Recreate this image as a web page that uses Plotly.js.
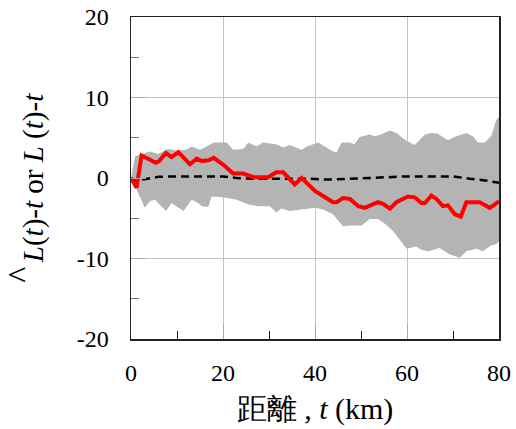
<!DOCTYPE html>
<html>
<head>
<meta charset="utf-8">
<script src="https://cdn.plot.ly/plotly-3.0.1.min.js"></script>
<style>
  html, body { margin: 0; padding: 0; background: #fff; }
  #chart { width: 516px; height: 429px; }
</style>
</head>
<body>
<div id="chart"></div>
<script>
// Observed statistic L(t)-t (red)
const redT = [0, 1.2, 2.3, 5.4, 6.1, 7.6, 8.8, 10.3, 12.8, 14.3, 15.4, 16.8, 18.0, 20.4, 22.2, 24.4, 26.6, 29.8, 31.6, 33.1, 35.6, 37.1, 40.0, 41.8, 43.9, 44.7, 46.1, 47.6, 49.4, 50.8, 53.7, 54.8, 56.3, 57.7, 60.2, 61.7, 63.1, 63.9, 65.3, 66.4, 67.8, 68.9, 70.4, 71.7, 72.9, 75.8, 78.0, 80.0];
const redV = [0, -1.2, 2.8, 1.9, 2.1, 3.1, 2.6, 3.2, 1.7, 2.4, 2.1, 2.2, 2.5, 1.5, 0.55, 0.55, 0.1, 0.1, 0.7, 0.7, -0.8, 0.0, -1.6, -2.3, -3.0, -3.0, -2.5, -2.6, -3.5, -3.7, -3.0, -3.2, -3.8, -3.0, -2.3, -2.4, -3.1, -3.1, -2.2, -2.6, -3.5, -3.4, -4.5, -4.8, -3.0, -3.0, -3.7, -2.9];

// Expected value under randomness (dashed)
const meanT = [0, 1.2, 2.5, 4.1, 6, 10, 15, 20, 23, 27, 31, 35, 39, 43, 47, 50, 55, 60, 65, 70, 73.7, 77, 80];
const meanV = [0, -0.5, -0.2, 0.0, 0.15, 0.2, 0.2, 0.2, 0.0, -0.1, -0.1, -0.1, -0.1, -0.2, -0.1, -0.1, 0.1, 0.2, 0.2, 0.2, -0.1, -0.3, -0.6];

// Simulation envelope, upper bound
const upT = [0, 0.9, 2.0, 4, 6, 8, 10, 12.0, 13.2, 15.0, 16.4, 18.0, 20.8, 22.2, 24.4, 25.5, 27.3, 28.7, 31.6, 33.1, 34.5, 37.1, 38.2, 40.7, 42.1, 43.9, 44.7, 45.8, 47.6, 48.6, 49.7, 51.9, 53.0, 54.4, 56.3, 57.7, 59.9, 61.7, 63.9, 65.3, 66.7, 68.9, 70.7, 72.9, 74.3, 75.4, 76.9, 78.3, 79.4, 80];
const upV = [0, 2.7, 2.9, 3.3, 3.0, 3.6, 3.4, 3.5, 3.9, 3.5, 3.9, 4.4, 4.4, 3.5, 3.6, 4.4, 3.9, 4.4, 4.2, 3.8, 4.1, 3.5, 3.9, 4.4, 3.9, 3.3, 3.2, 4.4, 4.4, 4.2, 5.1, 5.4, 5.2, 5.4, 5.9, 5.6, 4.6, 4.1, 5.4, 5.6, 5.5, 4.7, 5.2, 5.6, 5.2, 4.4, 4.4, 5.2, 7.2, 7.6];

// Simulation envelope, lower bound
const loT = [0, 1.2, 3.0, 4.1, 5.2, 6.3, 7.6, 8.8, 9.9, 11.4, 13.2, 14.6, 15.4, 16.8, 17.5, 20.0, 23.0, 25.5, 27.7, 30.2, 31.6, 32.7, 34.5, 37.1, 40.0, 41.8, 43.9, 46.1, 47.6, 50.1, 51.9, 53.7, 55.5, 57.0, 58.4, 59.9, 62.0, 63.1, 64.6, 67.1, 69.3, 71.5, 72.9, 75.1, 76.5, 78.3, 79.4, 80];
const loV = [0, -1.4, -3.7, -2.9, -2.7, -3.3, -4.1, -3.1, -3.5, -4.1, -2.7, -3.1, -3.5, -3.6, -2.3, -2.4, -2.7, -3.3, -3.5, -3.5, -4.3, -3.8, -4.1, -3.9, -3.7, -3.9, -4.5, -6.0, -5.9, -5.9, -5.1, -5.1, -5.8, -6.6, -7.7, -8.8, -8.5, -8.9, -9.1, -8.7, -9.5, -9.9, -9.1, -8.8, -9.1, -8.4, -8.2, -7.9];

const xTicks = [0, 20, 40, 60, 80];
const yTicks = [-20, -10, 0, 10, 20];

const serif = 'Liberation Serif';

// closed polygon: upper edge left-to-right, then lower edge back
const envX = upT.concat(loT.slice().reverse());
const envY = upV.concat(loV.slice().reverse());

const traces = [
  { x: envX, y: envY, type: 'scatter', mode: 'lines', fill: 'toself',
    fillcolor: '#b4b4b4', line: { width: 0, color: '#b4b4b4' }, hoverinfo: 'skip', showlegend: false },
  { x: meanT, y: meanV, type: 'scatter', mode: 'lines',
    line: { color: '#000', width: 2.5, dash: '8px,5px' }, showlegend: false },
  { x: redT, y: redV, type: 'scatter', mode: 'lines',
    line: { color: '#ff0000', width: 4 }, showlegend: false }
];

const axisCommon = {
  showgrid: true, gridcolor: '#c4c4c4', gridwidth: 1,
  zeroline: false, showline: true, linecolor: '#222', linewidth: 1.5, mirror: true,
  ticks: 'inside', ticklen: 15, tickcolor: '#aaa', tickwidth: 1,
  tickfont: { family: serif, size: 24, color: '#000' }
};

const layout = {
  width: 516, height: 429,
  margin: { l: 131, r: 17, t: 17, b: 90 },
  paper_bgcolor: '#fff', plot_bgcolor: '#fff',
  showlegend: false,
  xaxis: Object.assign({}, axisCommon, {
    range: [0, 80], tickvals: xTicks, ticktext: xTicks.map(String),
    ticklabelstandoff: 12,
    minor: { tickvals: [10, 30, 50, 70], ticks: 'inside', ticklen: 8, tickcolor: '#222', tickwidth: 1, showgrid: false },
    title: { text: '距離 , <i>t</i> (km)', font: { family: serif, size: 30, color: '#000' }, standoff: 12 }
  }),
  yaxis: Object.assign({}, axisCommon, {
    range: [-20, 20], tickvals: yTicks, ticktext: yTicks.map(String),
    ticklabelstandoff: 16,
    minor: { tickvals: [-15, -5, 5, 15], ticks: 'inside', ticklen: 8, tickcolor: '#777', tickwidth: 1, showgrid: false },
    title: { text: '<i>L</i>(<i>t</i>)-<i>t</i> or <i>L</i> (<i>t</i>)-<i>t</i>', font: { family: serif, size: 29, color: '#000' }, standoff: 24 }
  }),
  annotations: [
    // circumflex over the first L of the axis title
    { text: '^', xref: 'paper', yref: 'paper', x: -0.304, y: 0.2, xanchor: 'center', yanchor: 'middle',
      textangle: -90, showarrow: false, font: { family: serif, size: 34, color: '#000' } }
  ]
};

Plotly.newPlot('chart', traces, layout, { displayModeBar: false, staticPlot: true });
</script>
</body>
</html>
